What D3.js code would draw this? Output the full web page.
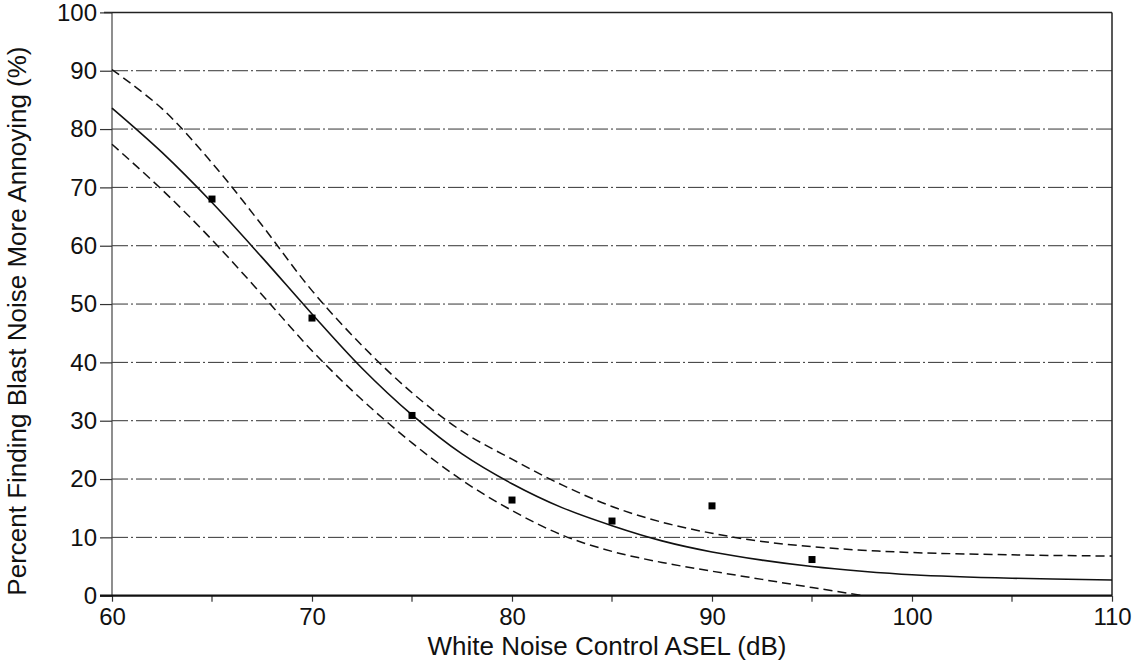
<!DOCTYPE html>
<html>
<head>
<meta charset="utf-8">
<script src="https://cdnjs.cloudflare.com/ajax/libs/d3/7.8.5/d3.min.js"></script>
<style>
  body { margin: 0; background: #fff; }
  svg { display: block; font-family: "Liberation Sans", Arial, sans-serif; }
  .grid line { stroke: #333; stroke-width: 1; stroke-dasharray: 16,3,2,3; }
  .axis_title { font-size: 26px; fill: #111; }
</style>
</head>
<body>
<div id="chart"></div>
<script>

var width = 1142,
height = 662;

// observed points
var obs_x = [65, 70, 75, 80, 85, 90, 95];
var obs_y = [68.0, 47.6, 30.9, 16.4, 12.8, 15.4, 6.2];

// fitted curve and confidence bounds
var fit_x = [60, 62.5, 65, 67.5, 70, 72.5, 75, 77.5, 80, 82.5, 85, 87.5, 90, 92.5, 95, 97.5, 100, 105, 110];
var fit_y = [83.6, 76.0, 67.4, 58.0, 48.3, 39.0, 31.0, 24.3, 19.2, 15.1, 12.0, 9.4, 7.5, 6.1, 5.0, 4.2, 3.6, 3.0, 2.7];
var upper_y = [90.2, 83.5, 74.2, 63.5, 52.3, 42.9, 34.8, 28.2, 23.4, 19.0, 15.3, 12.6, 10.7, 9.3, 8.4, 7.8, 7.4, 7.0, 6.8];
var lower_x = [60, 62.5, 65, 67.5, 70, 72.5, 75, 77.5, 80, 82.5, 85, 87.5, 90, 92.5, 95, 97.6];
var lower_y = [77.4, 69.6, 61.0, 51.6, 42.0, 33.6, 26.2, 19.8, 14.6, 10.4, 7.6, 5.7, 4.2, 2.8, 1.4, 0];

var x_ticks = [60, 70, 80, 90, 100, 110];
var x_minor = [65, 75, 85, 95, 105];
var y_ticks = [0, 10, 20, 30, 40, 50, 60, 70, 80, 90, 100];
var grid_y = [10, 20, 30, 40, 50, 60, 70, 80, 90];

var x = d3.scaleLinear().domain([60, 110]).range([112, 1112]);
var y = d3.scaleLinear().domain([0, 100]).range([595.7, 12.4]);

var svg = d3.select("#chart")
.append("svg")
.attr("width", width)
.attr("height", height);

// dash-dot gridlines
svg.append("g")
.attr("class", "grid")
.selectAll("line")
.data(grid_y)
.enter()
.append("line")
.attr("x1", x(60))
.attr("x2", x(110))
.attr("y1", function(d) { return y(d); })
.attr("y2", function(d) { return y(d); });

// frame
svg.append("line")
.attr("x1", x(60)).attr("x2", x(60))
.attr("y1", y(0)).attr("y2", y(100))
.attr("stroke", "#444").attr("stroke-width", 1.2);
svg.append("line")
.attr("x1", x(110)).attr("x2", x(110))
.attr("y1", y(0)).attr("y2", y(100))
.attr("stroke", "#222").attr("stroke-width", 1.5);
svg.append("line")
.attr("x1", x(60) - 8).attr("x2", x(110))
.attr("y1", y(100)).attr("y2", y(100))
.attr("stroke", "#222").attr("stroke-width", 1.5);

// y axis
var yAxis = d3.axisLeft(y)
.tickValues(y_ticks)
.tickSize(12)
.tickPadding(3)
.tickFormat(d3.format("d"));

var gy = svg.append("g")
.attr("transform", "translate(" + x(60) + ",0)")
.call(yAxis);
gy.select(".domain").remove();
gy.selectAll(".tick line").attr("stroke", "#333").attr("stroke-width", 1.2);
gy.selectAll(".tick text")
.style("font-size", "24px")
.style("fill", "#111");

// x axis
var xAxis = d3.axisBottom(x)
.tickValues(x_ticks)
.tickSize(6)
.tickPadding(6)
.tickFormat(d3.format("d"));

var gx = svg.append("g")
.attr("transform", "translate(0," + y(0) + ")")
.call(xAxis);
gx.select(".domain").remove();
gx.selectAll(".tick line").attr("stroke", "#333").attr("stroke-width", 1.2);
gx.selectAll(".tick text")
.style("font-size", "24px")
.style("fill", "#111");

gx.selectAll(".minor")
.data(x_minor)
.enter()
.append("line")
.attr("class", "minor")
.attr("x1", function(d) { return x(d); })
.attr("x2", function(d) { return x(d); })
.attr("y1", 0)
.attr("y2", 6)
.attr("stroke", "#333")
.attr("stroke-width", 1.2);

// heavy baseline
svg.append("line")
.attr("x1", x(60) - 12).attr("x2", x(110))
.attr("y1", y(0)).attr("y2", y(0))
.attr("stroke", "#111").attr("stroke-width", 2.2);

// curves
var line = d3.line()
.x(function(d) { return x(d[0]); })
.y(function(d) { return y(d[1]); })
.curve(d3.curveCatmullRom.alpha(0.5));

svg.append("path")
.attr("d", line(d3.zip(fit_x, upper_y)))
.attr("fill", "none")
.attr("stroke", "#111")
.attr("stroke-width", 1.5)
.attr("stroke-dasharray", "9,5");

svg.append("path")
.attr("d", line(d3.zip(lower_x, lower_y)))
.attr("fill", "none")
.attr("stroke", "#111")
.attr("stroke-width", 1.5)
.attr("stroke-dasharray", "9,5");

svg.append("path")
.attr("d", line(d3.zip(fit_x, fit_y)))
.attr("fill", "none")
.attr("stroke", "#111")
.attr("stroke-width", 1.6);

// observed squares
var sq = 7;
svg.append("g")
.selectAll("rect")
.data(d3.zip(obs_x, obs_y))
.enter()
.append("rect")
.attr("x", function(d) { return x(d[0]) - sq / 2; })
.attr("y", function(d) { return y(d[1]) - sq / 2; })
.attr("width", sq)
.attr("height", sq)
.attr("fill", "#000");

// axis titles
svg.append("text")
.attr("class", "axis_title")
.attr("x", 607)
.attr("y", 655)
.attr("text-anchor", "middle")
.text("White Noise Control ASEL (dB)");

svg.append("text")
.attr("class", "axis_title")
.attr("transform", "translate(26," + (y(50) + 17) + ") rotate(-90)")
.attr("text-anchor", "middle")
.text("Percent Finding Blast Noise More Annoying (%)");

</script>
</body>
</html>
